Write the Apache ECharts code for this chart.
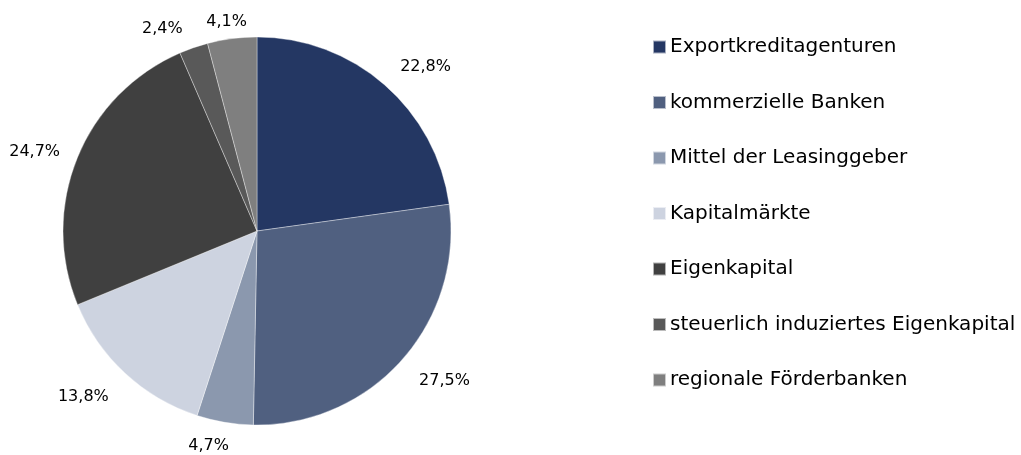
<!DOCTYPE html>
<html>
<head>
<meta charset="utf-8">
<script src="https://cdn.jsdelivr.net/npm/echarts@6/dist/echarts.min.js"></script>
<style>
  html, body { margin: 0; padding: 0; background: #fff; }
  #chart { width: 1021px; height: 455px; }
</style>
</head>
<body>
<div id="chart"></div>
<script>
const categories = [
  'Exportkreditagenturen',
  'kommerzielle Banken',
  'Mittel der Leasinggeber',
  'Kapitalmärkte',
  'Eigenkapital',
  'steuerlich induziertes Eigenkapital',
  'regionale Förderbanken'
]
const shares = [22.8, 27.5, 4.7, 13.8, 24.7, 2.4, 4.1]
const colors = ['#243763', '#506080', '#8b98ae', '#cdd3e0', '#404040', '#595959', '#7f7f7f']

const chart = echarts.init(document.getElementById('chart'))

// small nudges so the labels sit where the original placed them
const labelNudge = [[-5, 0], [-6, 5], [13, 0], [5, 6], [10, 3], [2, 4], [23, 7]]

chart.setOption({
  animation: false,
  textStyle: { fontFamily: 'DejaVu Sans' },
  legend: {
    orient: 'vertical',
    left: 652,
    top: 37,
    padding: 0,
    itemWidth: 13,
    itemHeight: 13,
    itemGap: 35.5,
    icon: 'rect',
    textStyle: { fontSize: 20, lineHeight: 20, color: '#000', padding: [0, 0, 0, -1] },
    data: categories
  },
  series: [
    {
      type: 'pie',
      center: [257, 231],
      radius: 194,
      startAngle: 90,
      clockwise: true,
      avoidLabelOverlap: false,
      itemStyle: { borderColor: 'rgba(255,255,255,0.6)', borderWidth: 0.6 },
      label: {
        position: 'outside',
        fontSize: 16,
        color: '#000',
        overflow: 'none',
        formatter: (p) => p.value.toFixed(1).replace('.', ',') + '%'
      },
      labelLine: { show: false, length: 24, length2: 0 },
      emphasis: { disabled: true },
      data: categories.map((name, i) => ({
        name,
        value: shares[i],
        itemStyle: { color: colors[i] },
        label: { offset: labelNudge[i] }
      }))
    }
  ]
})
</script>
</body>
</html>
